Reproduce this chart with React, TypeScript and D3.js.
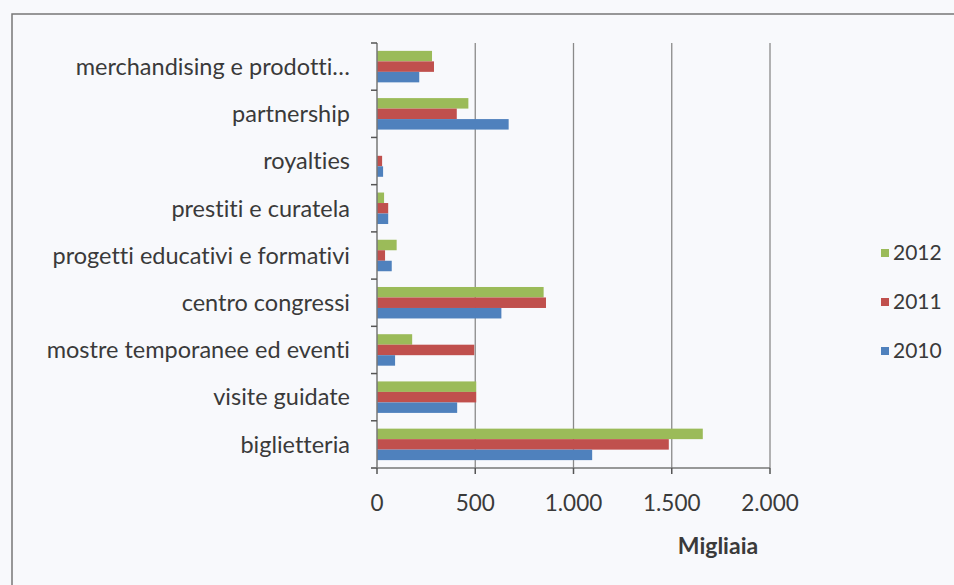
import React, { useEffect, useRef } from "react";
import * as d3 from "d3";

const categories = [
  "merchandising e prodotti…",
  "partnership",
  "royalties",
  "prestiti e curatela",
  "progetti educativi e formativi",
  "centro congressi",
  "mostre temporanee ed eventi",
  "visite guidate",
  "biglietteria",
];
const series = ["2012", "2011", "2010"];
const values2012 = [280, 465, 0, 36, 100, 848, 179, 505, 1658];
const values2011 = [290, 406, 26, 57, 41, 860, 495, 505, 1485];
const values2010 = [215, 670, 31, 57, 75, 633, 92, 408, 1095];
const xTicks = [0, 500, 1000, 1500, 2000];
const xTickLabels = ["0", "500", "1.000", "1.500", "2.000"];
const colors = ["#9BBB59", "#C0504D", "#4F81BD"];

const W = 954;
const H = 585;

export default function App() {
  const ref = useRef<SVGSVGElement>(null);
  useEffect(() => {
    const svg = d3.select(ref.current);
    svg.selectAll("*").remove();
    const font = "Lato, 'Open Sans', sans-serif";
    const textColor = "#3a3a3a";

    svg.append("rect").attr("width", W).attr("height", H).attr("fill", "#f8f9fc");
    svg
      .append("rect")
      .attr("x", 12)
      .attr("y", 14)
      .attr("width", W + 20)
      .attr("height", H + 20)
      .attr("fill", "none")
      .attr("stroke", "#777")
      .attr("stroke-width", 1.5);

    const x0 = 377, x1 = 770, yTop = 43, yBot = 468;
    const x = d3.scaleLinear().domain([0, 2000]).range([x0, x1]);
    const y = d3.scaleBand().domain(categories).range([yTop, yBot]).paddingInner(0.3333).paddingOuter(0.1667);
    const sub = d3.scaleBand().domain(series).range([0, y.bandwidth()]);

    // gridlines
    svg
      .append("g")
      .selectAll("line")
      .data(xTicks.slice(1))
      .join("line")
      .attr("x1", (d) => x(d))
      .attr("x2", (d) => x(d))
      .attr("y1", yTop)
      .attr("y2", yBot)
      .attr("stroke", "#8a8a8a")
      .attr("stroke-width", 1.3);

    const all = [values2012, values2011, values2010];
    series.forEach((s, si) => {
      svg
        .append("g")
        .selectAll("rect")
        .data(categories)
        .join("rect")
        .attr("x", x(0))
        .attr("y", (c) => (y(c) as number) + (sub(s) as number))
        .attr("width", (c, i) => x(all[si][i]) - x(0))
        .attr("height", sub.bandwidth())
        .attr("fill", colors[si]);
    });

    // category axis
    svg.append("line").attr("x1", x0).attr("x2", x0).attr("y1", yTop).attr("y2", yBot).attr("stroke", "#777").attr("stroke-width", 1.5);
    const step = (yBot - yTop) / categories.length;
    d3.range(categories.length + 1).forEach((i) => {
      svg.append("line").attr("x1", x0 - 6).attr("x2", x0).attr("y1", yTop + i * step).attr("y2", yTop + i * step).attr("stroke", "#555").attr("stroke-width", 1.5);
    });
    svg
      .append("g")
      .selectAll("text")
      .data(categories)
      .join("text")
      .attr("x", 350)
      .attr("y", (c) => (y(c) as number) + y.bandwidth() / 2)
      .attr("dy", "0.35em")
      .attr("text-anchor", "end")
      .attr("font-family", font)
      .attr("font-size", 23.5)
      .style("font-variant-ligatures", "none")
      .attr("fill", textColor)
      .text((d) => d);

    // value axis
    svg.append("line").attr("x1", x0 - 6).attr("x2", x1).attr("y1", yBot).attr("y2", yBot).attr("stroke", "#777").attr("stroke-width", 1.5);
    svg
      .append("g")
      .selectAll("line")
      .data(xTicks)
      .join("line")
      .attr("x1", (d) => x(d))
      .attr("x2", (d) => x(d))
      .attr("y1", yBot)
      .attr("y2", yBot + 6)
      .attr("stroke", "#555")
      .attr("stroke-width", 1.5);
    svg
      .append("g")
      .selectAll("text")
      .data(xTicks)
      .join("text")
      .attr("x", (d) => x(d))
      .attr("y", 503)
      .attr("dy", "0.35em")
      .attr("text-anchor", "middle")
      .attr("font-family", font)
      .attr("font-size", 22.5)
      .attr("fill", textColor)
      .text((d, i) => xTickLabels[i]);
    svg
      .append("text")
      .attr("x", 718)
      .attr("y", 546)
      .attr("dy", "0.35em")
      .attr("text-anchor", "middle")
      .attr("font-family", font)
      .attr("font-size", 23)
      .attr("font-weight", "bold")
      .attr("fill", textColor)
      .text("Migliaia");

    // legend
    const ly = [253, 302, 351];
    series.forEach((s, i) => {
      svg.append("rect").attr("x", 881).attr("y", ly[i] - 4).attr("width", 8).attr("height", 8).attr("fill", colors[i]);
      svg
        .append("text")
        .attr("x", 893)
        .attr("y", ly[i])
        .attr("dy", "0.35em")
        .attr("font-family", font)
        .attr("font-size", 21)
        .attr("fill", textColor)
        .text(s);
    });
  }, []);
  return <svg ref={ref} width={W} height={H} style={{ position: "absolute", left: 0, top: 0 }} />;
}
